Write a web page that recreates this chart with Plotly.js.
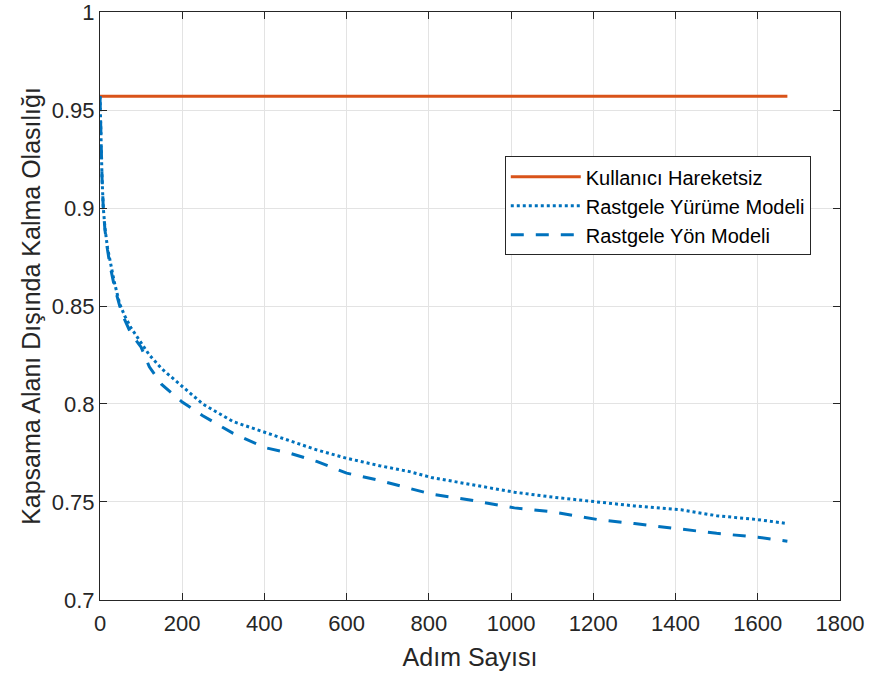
<!DOCTYPE html>
<html>
<head>
<meta charset="utf-8">
<script src="https://cdn.plot.ly/plotly-3.0.1.min.js"></script>
<style>html,body{margin:0;padding:0;background:#fff;}#chart{width:874px;height:677px;}</style>
</head>
<body>
<div id="chart"></div>
<script>
const seriesNames = ["Kullanıcı Hareketsiz", "Rastgele Yürüme Modeli", "Rastgele Yön Modeli"];
const staticSteps = [0, 1672];
const staticProb = [0.957, 0.957];
const steps = [0, 2, 5, 8, 12, 18, 25, 35, 48, 60, 75, 100, 120, 150, 200, 250, 324, 400, 460, 527, 600, 680, 753, 806, 900, 1008, 1100, 1212, 1300, 1414, 1500, 1600, 1672];
const walkProb = [0.957, 0.935, 0.915, 0.900, 0.890, 0.880, 0.872, 0.862, 0.851, 0.845, 0.839, 0.831, 0.825, 0.818, 0.809, 0.800, 0.791, 0.7856, 0.781, 0.7766, 0.7723, 0.7685, 0.7655, 0.7625, 0.759, 0.755, 0.7525, 0.750, 0.748, 0.746, 0.743, 0.741, 0.739];
const dirProb = [0.957, 0.935, 0.915, 0.900, 0.889, 0.879, 0.870, 0.860, 0.850, 0.843, 0.836, 0.829, 0.819, 0.810, 0.801, 0.794, 0.785, 0.7778, 0.775, 0.7707, 0.7647, 0.761, 0.757, 0.754, 0.751, 0.747, 0.745, 0.741, 0.739, 0.736, 0.734, 0.732, 0.730];
const xTicks = [0, 200, 400, 600, 800, 1000, 1200, 1400, 1600, 1800];
const yTicks = [0.7, 0.75, 0.8, 0.85, 0.9, 0.95, 1];
const yTickText = ["0.7", "0.75", "0.8", "0.85", "0.9", "0.95", "1"];

const font = "'Liberation Sans', Arial, Helvetica, sans-serif";
const traces = [
  {x: staticSteps, y: staticProb, name: seriesNames[0], mode: "lines", line: {color: "#D95319", width: 3}},
  {x: steps, y: walkProb, name: seriesNames[1], mode: "lines", line: {color: "#0072BD", width: 3, dash: "3px,3px"}},
  {x: steps, y: dirProb, name: seriesNames[2], mode: "lines", line: {color: "#0072BD", width: 3, dash: "13px,12px"}}
];
const axisCommon = {
  showline: true, linecolor: "#262626", linewidth: 1, mirror: "ticks",
  ticks: "inside", ticklen: 7, tickcolor: "#262626", tickwidth: 1,
  showgrid: true, gridcolor: "#e3e3e3", gridwidth: 1, zeroline: false,
  ticklabeloverflow: "allow",
  tickfont: {family: font, size: 22, color: "#262626"}
};
const layout = {
  width: 874, height: 677,
  margin: {l: 100, r: 34, t: 12, b: 77},
  paper_bgcolor: "#ffffff", plot_bgcolor: "#ffffff",
  showlegend: true,
  xaxis: Object.assign({}, axisCommon, {
    range: [0, 1800], tickvals: xTicks, ticktext: xTicks.map(String),
    ticklabelstandoff: 4,
    title: {text: "Adım Sayısı", font: {family: font, size: 25, color: "#262626"}, standoff: 13}
  }),
  yaxis: Object.assign({}, axisCommon, {
    range: [0.69999, 1.00001], tickvals: yTicks, ticktext: yTickText,
    title: {text: "Kapsama Alanı Dışında Kalma Olasılığı", font: {family: font, size: 25, color: "#262626"}, standoff: 4}
  }),
  legend: {
    x: 0.547, y: 0.7545, xanchor: "left", yanchor: "top",
    bgcolor: "#ffffff", bordercolor: "#262626", borderwidth: 1,
    font: {family: font, size: 20, color: "#000000"},
    itemwidth: 70, tracegroupgap: 0
  }
};
Plotly.newPlot("chart", traces, layout, {staticPlot: true, displayModeBar: false});
</script>
</body>
</html>
